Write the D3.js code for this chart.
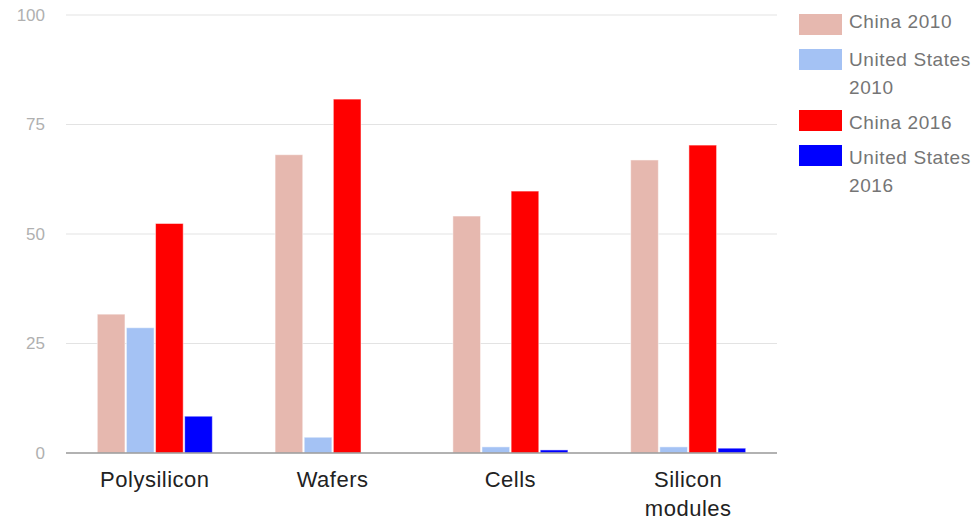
<!DOCTYPE html>
<html><head><meta charset="utf-8">
<script src="https://cdn.jsdelivr.net/npm/d3@7"></script>
<style>body{margin:0;background:#fff;} svg{display:block;font-family:Arial,"Liberation Sans",sans-serif;}</style>
</head><body>
<svg id="c" width="974" height="520"></svg>
<script>
const categories = ["Polysilicon", "Wafers", "Cells", "Silicon modules"];
const seriesNames = ["China 2010", "United States 2010", "China 2016", "United States 2016"];
const china2010 = [31.7, 68.1, 54.1, 66.9];
const us2010 = [28.6, 3.6, 1.4, 1.4];
const china2016 = [52.4, 80.8, 59.8, 70.3];
const us2016 = [8.4, 0, 0.7, 1.1];
const yTicks = [0, 25, 50, 75, 100];
const colors = ["#e6b8af", "#a4c2f4", "#ff0000", "#0000ff"];

const series = [china2010, us2010, china2016, us2016];
const svg = d3.select("#c");
const m = {l: 66, r: 197, t: 15, b: 67};
const W = 974, H = 520;
const x0 = d3.scaleBand().domain(categories).range([m.l, W - m.r]).paddingInner(0.353).paddingOuter(0.176);
const x1 = d3.scaleBand().domain(d3.range(4)).range([0, x0.bandwidth()]).paddingInner(0.05);
const y = d3.scaleLinear().domain([0, 100]).range([H - m.b, m.t]);

// gridlines
svg.append("g").selectAll("line").data(yTicks.filter(d => d > 0)).join("line")
  .attr("x1", m.l).attr("x2", W - m.r).attr("y1", d => y(d)).attr("y2", d => y(d))
  .attr("stroke", "#e3e3e3").attr("stroke-width", 1);
// y labels
svg.append("g").selectAll("text").data(yTicks).join("text")
  .attr("x", 45).attr("y", d => y(d)).attr("dy", "0.35em").attr("text-anchor", "end")
  .attr("fill", "#b0b0b0").attr("font-size", 17).text(d => d);

// bars
const g = svg.append("g");
categories.forEach((c, ci) => {
  series.forEach((s, si) => {
    const v = s[ci];
    if (v <= 0) return;
    g.append("rect")
      .attr("x", x0(c) + x1(si)).attr("width", x1.bandwidth())
      .attr("y", y(v)).attr("height", y(0) - y(v))
      .attr("fill", colors[si]).attr("stroke", "#ffffff").attr("stroke-opacity", 0.5).attr("stroke-width", 1);
  });
});

// baseline
svg.append("line").attr("x1", m.l).attr("x2", W - m.r).attr("y1", y(0)).attr("y2", y(0))
  .attr("stroke", "#999999").attr("stroke-width", 1.5);

// category labels
const xl = svg.append("g");
categories.forEach(c => {
  const cx = x0(c) + x0.bandwidth() / 2;
  const words = c === "Silicon modules" ? ["Silicon", "modules"] : [c];
  words.forEach((w, i) => {
    xl.append("text").attr("x", cx).attr("y", 487 + i * 29).attr("text-anchor", "middle")
      .attr("fill", "#222222").attr("font-size", 22).attr("letter-spacing", 0.5).text(w);
  });
});

// legend
const legendLines = [["China 2010"], ["United States", "2010"], ["China 2016"], ["United States", "2016"]];
const swatchY = [14, 49, 110, 145];
const textY = [28, 66, 129, 164];
const lg = svg.append("g");
seriesNames.forEach((n, i) => {
  lg.append("rect").attr("x", 799).attr("y", swatchY[i]).attr("width", 43).attr("height", 21).attr("fill", colors[i]);
  legendLines[i].forEach((t, j) => {
    lg.append("text").attr("x", 849).attr("y", textY[i] + j * 28).attr("fill", "#757575")
      .attr("font-size", 19).attr("letter-spacing", 0.6).text(t);
  });
});
</script>
</body></html>
